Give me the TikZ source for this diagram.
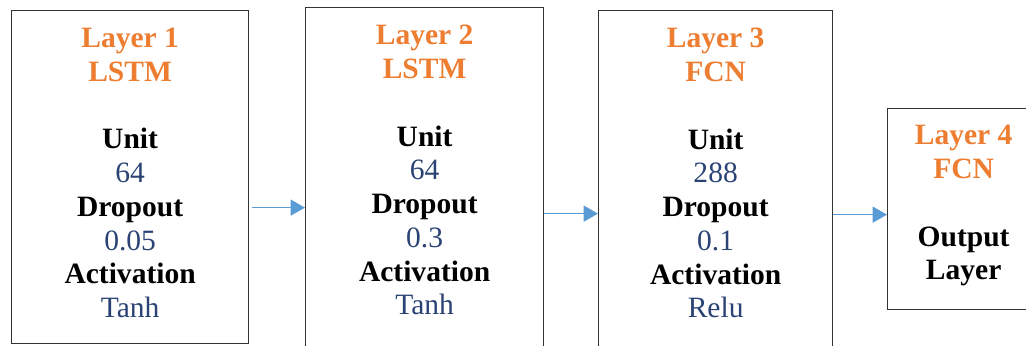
\documentclass[tikz,border=0pt]{standalone}
\usepackage{fontspec}
\setmainfont{Liberation Serif}
\usetikzlibrary{positioning, arrows.meta}
\definecolor{layerorange}{HTML}{ED7D31}
\definecolor{valueblue}{HTML}{2A4374}
\definecolor{flowblue}{HTML}{5B9BD5}

\begin{document}
\begin{tikzpicture}[
    layerbox/.style={draw=black!80, line width=0.9pt, anchor=north west, inner sep=0pt},
    layertext/.style={align=center, inner sep=0pt, font=\fontsize{21}{24}\selectfont},
    flow/.style={draw=flowblue, line width=1.1pt, -{Triangle[length=0.36cm, width=0.4cm]}}
  ]
  \useasboundingbox (0,0) rectangle (25.65,8.625);
  % boxes
  \node[layerbox, minimum width=5.925cm, minimum height=8.325cm] (l1) at (0.275,8.375) {};
  \node[layerbox, minimum width=5.95cm, minimum height=8.825cm] (l2) at (7.625,8.45) {};
  \node[layerbox, minimum width=5.85cm, minimum height=8.75cm] (l3) at (14.95,8.375) {};
  \node[layerbox, minimum width=3.8cm, minimum height=5.025cm] (l4) at (22.175,5.925) {};
  % texts
  \node[layertext, below=0.45cm of l1.north] (t1) {\textcolor{layerorange}{\textbf{Layer 1}}\\ \textcolor{layerorange}{\textbf{LSTM}}\\[24pt]
    \textbf{Unit}\\ \textcolor{valueblue}{64}\\ \textbf{Dropout}\\ \textcolor{valueblue}{0.05}\\ \textbf{Activation}\\ \textcolor{valueblue}{Tanh}};
  \node[layertext, below=0.45cm of l2.north] (t2) {\textcolor{layerorange}{\textbf{Layer 2}}\\ \textcolor{layerorange}{\textbf{LSTM}}\\[24pt]
    \textbf{Unit}\\ \textcolor{valueblue}{64}\\ \textbf{Dropout}\\ \textcolor{valueblue}{0.3}\\ \textbf{Activation}\\ \textcolor{valueblue}{Tanh}};
  \node[layertext, below=0.45cm of l3.north] (t3) {\textcolor{layerorange}{\textbf{Layer 3}}\\ \textcolor{layerorange}{\textbf{FCN}}\\[24pt]
    \textbf{Unit}\\ \textcolor{valueblue}{288}\\ \textbf{Dropout}\\ \textcolor{valueblue}{0.1}\\ \textbf{Activation}\\ \textcolor{valueblue}{Relu}};
  \node[layertext, below=0.43cm of l4.north] (t4) {\textcolor{layerorange}{\textbf{Layer 4}}\\ \textcolor{layerorange}{\textbf{FCN}}\\[24pt]
    \textbf{Output}\\ \textbf{Layer}};
  % arrows
  \coordinate (a1) at ([yshift=-0.7625cm]l1.east);
  \coordinate (a2) at ([yshift=-0.7375cm]l2.east);
  \coordinate (a3) at ([yshift=-0.725cm]l3.east);
  \draw[flow, shorten <=0.07cm] (a1) -- (a1 -| l2.west);
  \draw[flow] (a2) -- (a2 -| l3.west);
  \draw[flow] (a3) -- (a3 -| l4.west);
\end{tikzpicture}
\end{document}
